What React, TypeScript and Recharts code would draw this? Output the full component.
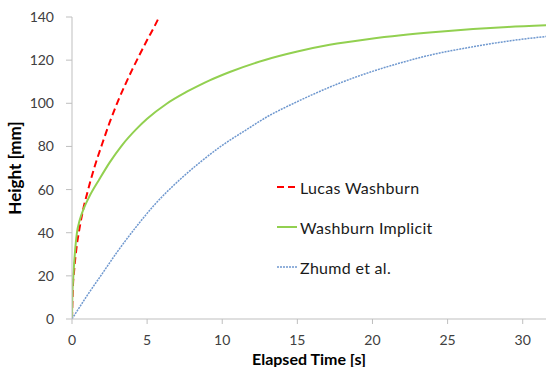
import { LineChart, Line, XAxis, YAxis, Label } from 'recharts'

type Pt = { t: number; h: number }

// values
const lucasWashburn: Pt[] = [
  { t: 0, h: 0 }, { t: 0.05, h: 13 }, { t: 0.15, h: 23 }, { t: 0.3, h: 33 },
  { t: 0.5, h: 42 }, { t: 0.75, h: 51 }, { t: 1, h: 58 }, { t: 1.5, h: 70.5 },
  { t: 2, h: 81 }, { t: 2.5, h: 91 }, { t: 3, h: 100 }, { t: 3.5, h: 108 },
  { t: 4, h: 115.5 }, { t: 4.5, h: 122.5 }, { t: 5, h: 129.3 }, { t: 5.5, h: 135.8 },
  { t: 5.8, h: 140 },
]

const washburnImplicit: Pt[] = [
  { t: 0, h: 0 }, { t: 0.02, h: 10 }, { t: 0.1, h: 21 }, { t: 0.33, h: 40 },
  { t: 0.5, h: 45.5 }, { t: 0.8, h: 51.5 }, { t: 1.17, h: 57 }, { t: 1.84, h: 65 },
  { t: 2.5, h: 72.5 }, { t: 3.3, h: 80.3 }, { t: 4.28, h: 88 }, { t: 5, h: 92.8 },
  { t: 6.3, h: 99.8 }, { t: 7.5, h: 104.8 }, { t: 8.5, h: 108.4 }, { t: 9.16, h: 110.6 },
  { t: 10.5, h: 114.5 }, { t: 12.9, h: 120.2 }, { t: 15, h: 124 }, { t: 17.15, h: 127.1 },
  { t: 19.8, h: 129.8 }, { t: 21.9, h: 131.5 }, { t: 24, h: 132.9 }, { t: 26.7, h: 134.4 },
  { t: 29, h: 135.4 }, { t: 31.6, h: 136.2 },
]

const zhumd: Pt[] = [
  { t: 0, h: 0 }, { t: 1, h: 10.8 }, { t: 2.06, h: 21.5 }, { t: 3, h: 31 },
  { t: 4.28, h: 42.8 }, { t: 5.5, h: 53 }, { t: 7.16, h: 64.5 }, { t: 8.5, h: 72.5 },
  { t: 10, h: 80.5 }, { t: 11.6, h: 87.7 }, { t: 13, h: 93.8 }, { t: 14.7, h: 99.8 },
  { t: 16, h: 104 }, { t: 17.8, h: 109.3 }, { t: 20, h: 114.8 }, { t: 21.9, h: 118.8 },
  { t: 24, h: 122.6 }, { t: 26.7, h: 126.2 }, { t: 29, h: 128.8 }, { t: 31.6, h: 131 },
]

const xTicks = [0, 5, 10, 15, 20, 25, 30]
const yTicks = [0, 20, 40, 60, 80, 100, 120, 140]

const series = [
  { name: 'Lucas Washburn', data: lucasWashburn, color: '#ff0000', width: 2, dash: '7 4' },
  { name: 'Washburn Implicit', data: washburnImplicit, color: '#92d050', width: 2, dash: undefined },
  { name: 'Zhumd et al.', data: zhumd, color: '#6f98cf', width: 1.5, dash: '2 1' },
]

const font = 'Lato, "Noto Sans", sans-serif'
const axisColor = '#bfbfbf'
const tickStyle = { fill: '#404040', fontSize: 14, fontFamily: font }

function LegendBox() {
  return (
    <div style={{ position: 'absolute', left: 276, top: 167, fontFamily: font, fontSize: 16, letterSpacing: 0.3, color: '#1a1a1a' }}>
      {series.map(s => (
        <div key={s.name} style={{ display: 'flex', alignItems: 'center', height: 40 }}>
          <svg width={22} height={10} style={{ marginRight: 2 }}>
            <line x1={1} y1={5} x2={21} y2={5} stroke={s.color} strokeWidth={s.width} strokeDasharray={s.dash} />
          </svg>
          <span>{s.name}</span>
        </div>
      ))}
    </div>
  )
}

export default function App() {
  return (
    <div style={{ position: 'absolute', left: 0, top: 0, width: 546, height: 367, background: '#fff' }}>
      <LineChart width={546} height={367} margin={{ top: 17, right: 0, left: 0, bottom: 0 }}>
        <XAxis
          type="number"
          dataKey="t"
          domain={[0, 31.55]}
          ticks={xTicks}
          allowDataOverflow
          height={48}
          stroke={axisColor}
          tickSize={5}
          tickMargin={11}
          tick={tickStyle}
        >
          <Label value="Elapsed Time [s]" position="insideBottom" offset={2}
            style={{ fontFamily: font, fontWeight: 700, fontSize: 16, fill: '#000' }} />
        </XAxis>
        <YAxis
          type="number"
          domain={[0, 140]}
          ticks={yTicks}
          allowDataOverflow
          width={72}
          stroke={axisColor}
          tickSize={6}
          tickMargin={12}
          tick={tickStyle}
        >
          <Label value="Height [mm]" angle={-90} position="insideLeft" offset={15}
            style={{ fontFamily: font, fontWeight: 700, fontSize: 17, fill: '#000', textAnchor: 'middle' }} />
        </YAxis>
        {series.map(s => (
          <Line
            key={s.name}
            data={s.data}
            dataKey="h"
            name={s.name}
            type="monotone"
            stroke={s.color}
            strokeWidth={s.width}
            strokeDasharray={s.dash}
            dot={false}
            activeDot={false}
            isAnimationActive={false}
          />
        ))}
      </LineChart>
      <LegendBox />
    </div>
  )
}
